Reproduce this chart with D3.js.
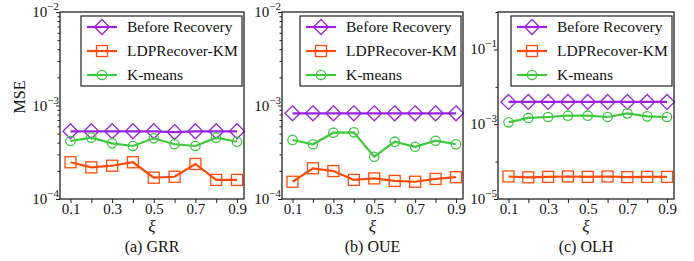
<!DOCTYPE html>
<html>
<head>
<meta charset="utf-8">
<script src="https://cdn.jsdelivr.net/npm/d3@7"></script>
<style>
  body { margin: 0; background: #fff; }
  svg text { font-family: "Liberation Serif", "Times New Roman", "DejaVu Serif", serif; fill: #111; }
</style>
</head>
<body>
<svg id="chart" width="694" height="261"></svg>
<script>
// x values (xi)
const xi = [0.1, 0.2, 0.3, 0.4, 0.5, 0.6, 0.7, 0.8, 0.9];
const xTickLabels = [0.1, 0.3, 0.5, 0.7, 0.9];
const seriesNames = ["Before Recovery", "LDPRecover-KM", "K-means"];
const captions = ["(a) GRR", "(b) OUE", "(c) OLH"];

// GRR
const grrBefore = [5.3e-4, 5.3e-4, 5.3e-4, 5.3e-4, 5.3e-4, 5.2e-4, 5.3e-4, 5.3e-4, 5.3e-4];
const grrLdp = [2.47e-4, 2.18e-4, 2.27e-4, 2.47e-4, 1.69e-4, 1.73e-4, 2.37e-4, 1.60e-4, 1.60e-4];
const grrKm = [4.17e-4, 4.53e-4, 3.94e-4, 3.69e-4, 4.46e-4, 3.85e-4, 3.69e-4, 4.53e-4, 4.10e-4];
// OUE
const oueBefore = [8.25e-4, 8.25e-4, 8.25e-4, 8.25e-4, 8.25e-4, 8.25e-4, 8.25e-4, 8.25e-4, 8.25e-4];
const oueLdp = [1.53e-4, 2.13e-4, 1.99e-4, 1.60e-4, 1.66e-4, 1.56e-4, 1.53e-4, 1.64e-4, 1.71e-4];
const oueKm = [4.28e-4, 3.85e-4, 5.12e-4, 5.17e-4, 2.83e-4, 4.10e-4, 3.62e-4, 4.20e-4, 3.85e-4];
// OLH
const olhBefore = [3.94e-3, 3.94e-3, 3.94e-3, 3.94e-3, 3.94e-3, 3.94e-3, 3.94e-3, 3.94e-3, 3.94e-3];
const olhLdp = [4.0e-5, 3.8e-5, 3.9e-5, 4.0e-5, 3.9e-5, 4.0e-5, 3.85e-5, 3.9e-5, 3.9e-5];
const olhKm = [1.12e-3, 1.47e-3, 1.56e-3, 1.69e-3, 1.69e-3, 1.56e-3, 1.95e-3, 1.62e-3, 1.56e-3];

const colors = ["#9a22e0", "#ff4a0a", "#3ec83e"];
const markers = ["diamond", "square", "circle"];
const serif = "'Liberation Serif', 'Times New Roman', serif";

const panels = [
  { left: 60, right: 244, domain: [1e-4, 1e-2], labels: [1e-4, 1e-3, 1e-2], minor: true,
    series: [grrBefore, grrLdp, grrKm] },
  { left: 282, right: 463, domain: [1e-4, 1e-2], labels: [1e-4, 1e-3, 1e-2], minor: true,
    series: [oueBefore, oueLdp, oueKm] },
  { left: 498, right: 674, domain: [1e-5, 1], labels: [1e-5, 1e-3, 1e-1], minor: false,
    series: [olhBefore, olhLdp, olhKm] }
];
const plotTop = 12, plotBottom = 199;

const svg = d3.select("#chart");

// draw one marker symbol
function drawMarker(g, type, x, y, color) {
  if (type === "diamond") {
    g.append("path")
      .attr("d", `M${x},${y - 7.5}L${x + 7.5},${y}L${x},${y + 7.5}L${x - 7.5},${y}Z`)
      .attr("fill", "none").attr("stroke", color).attr("stroke-width", 1.3);
  } else if (type === "square") {
    g.append("rect")
      .attr("x", x - 5.5).attr("y", y - 5.5).attr("width", 11).attr("height", 11)
      .attr("fill", "none").attr("stroke", color).attr("stroke-width", 1.3);
  } else {
    g.append("circle")
      .attr("cx", x).attr("cy", y).attr("r", 4.7)
      .attr("fill", "none").attr("stroke", color).attr("stroke-width", 1.3);
  }
}

function supLabel(sel, v) {
  const exp = Math.round(Math.log10(v));
  sel.append("tspan").text("10");
  sel.append("tspan").attr("dy", -7).attr("font-size", 11).text("\u2212" + Math.abs(exp));
}

panels.forEach((p, pi) => {
  const g = svg.append("g");

  const x = d3.scaleLinear().domain([0.1, 0.9]).range([p.left + 10.5, p.right - 7]);
  const y = d3.scaleLog().domain(p.domain).range([plotBottom, plotTop]);

  // x axis ticks
  const xAxis = d3.axisBottom(x)
    .tickValues(xi)
    .tickSize(4)
    .tickPadding(3)
    .tickFormat(d => xTickLabels.some(t => Math.abs(t - d) < 1e-9) ? d3.format(".1f")(d) : "");
  const xg = g.append("g")
    .attr("transform", `translate(0,${plotBottom})`)
    .call(xAxis);
  xg.select(".domain").remove();
  xg.selectAll("line").attr("stroke", "#222").attr("stroke-width", 1);
  xg.selectAll("text")
    .attr("font-family", serif)
    .attr("font-size", 15).attr("fill", "#111").attr("dy", "0.53em");

  // y axis ticks (major + minor)
  let minorVals = [];
  if (p.minor) {
    for (let e = -4; e < -2; e++) {
      for (let m = 2; m <= 9; m++) minorVals.push(m * Math.pow(10, e));
    }
  } else {
    minorVals = [1e-4, 1e-2, 1];
  }
  const yMinor = d3.axisLeft(y).tickValues(minorVals).tickSize(2.5).tickFormat("");
  const ymg = g.append("g").attr("transform", `translate(${p.left},0)`).call(yMinor);
  ymg.select(".domain").remove();
  ymg.selectAll("line").attr("stroke", "#222").attr("stroke-width", 1);

  const yMajor = d3.axisLeft(y).tickValues(p.labels).tickSize(4).tickFormat("");
  const yg = g.append("g").attr("transform", `translate(${p.left},0)`).call(yMajor);
  yg.select(".domain").remove();
  yg.selectAll("line").attr("stroke", "#222").attr("stroke-width", 1);

  p.labels.forEach(v => {
    const t = g.append("text")
      .attr("x", p.left - 1)
      .attr("y", y(v) + 5)
      .attr("text-anchor", "end")
      .attr("font-family", serif)
      .attr("font-size", 15);
    supLabel(t, v);
  });

  // series lines + markers
  p.series.forEach((vals, si) => {
    const line = d3.line().x((d, i) => x(xi[i])).y(d => y(d));
    g.append("path")
      .datum(vals)
      .attr("d", line)
      .attr("fill", "none")
      .attr("stroke", colors[si])
      .attr("stroke-width", 2.2);
    vals.forEach((v, i) => drawMarker(g, markers[si], x(xi[i]), y(v), colors[si]));
  });

  // frame
  g.append("rect")
    .attr("x", p.left).attr("y", plotTop)
    .attr("width", p.right - p.left).attr("height", plotBottom - plotTop)
    .attr("fill", "none").attr("stroke", "#222").attr("stroke-width", 1.3);

  // legend
  const lw = 161, lx = p.right - 2 - lw, ly = 16, lh = 70;
  const lg = g.append("g");
  lg.append("rect")
    .attr("x", lx).attr("y", ly).attr("width", lw).attr("height", lh)
    .attr("fill", "#fff").attr("stroke", "#222").attr("stroke-width", 1.2);
  seriesNames.forEach((name, si) => {
    const ry = ly + 11 + si * 24;
    lg.append("line")
      .attr("x1", lx + 6).attr("x2", lx + 36).attr("y1", ry).attr("y2", ry)
      .attr("stroke", colors[si]).attr("stroke-width", 2.2);
    drawMarker(lg, markers[si], lx + 21, ry, colors[si]);
    lg.append("text")
      .attr("x", lx + 46).attr("y", ry + 5)
      .attr("font-family", serif)
      .attr("font-size", 15.5)
      .text(name);
  });

  // x label and caption
  const cx = (p.left + p.right) / 2;
  g.append("text")
    .attr("x", cx).attr("y", 232)
    .attr("text-anchor", "middle")
    .attr("font-family", serif)
    .attr("font-size", 17)
    .attr("font-style", "italic")
    .text("\u03be");
  g.append("text")
    .attr("x", cx).attr("y", 252)
    .attr("text-anchor", "middle")
    .attr("font-family", serif)
    .attr("font-size", 16)
    .text(captions[pi]);
});

// y label
svg.append("text")
  .attr("transform", "translate(25,97) rotate(-90)")
  .attr("text-anchor", "middle")
  .attr("font-family", serif)
  .attr("font-size", 16)
  .text("MSE");
</script>
</body>
</html>
